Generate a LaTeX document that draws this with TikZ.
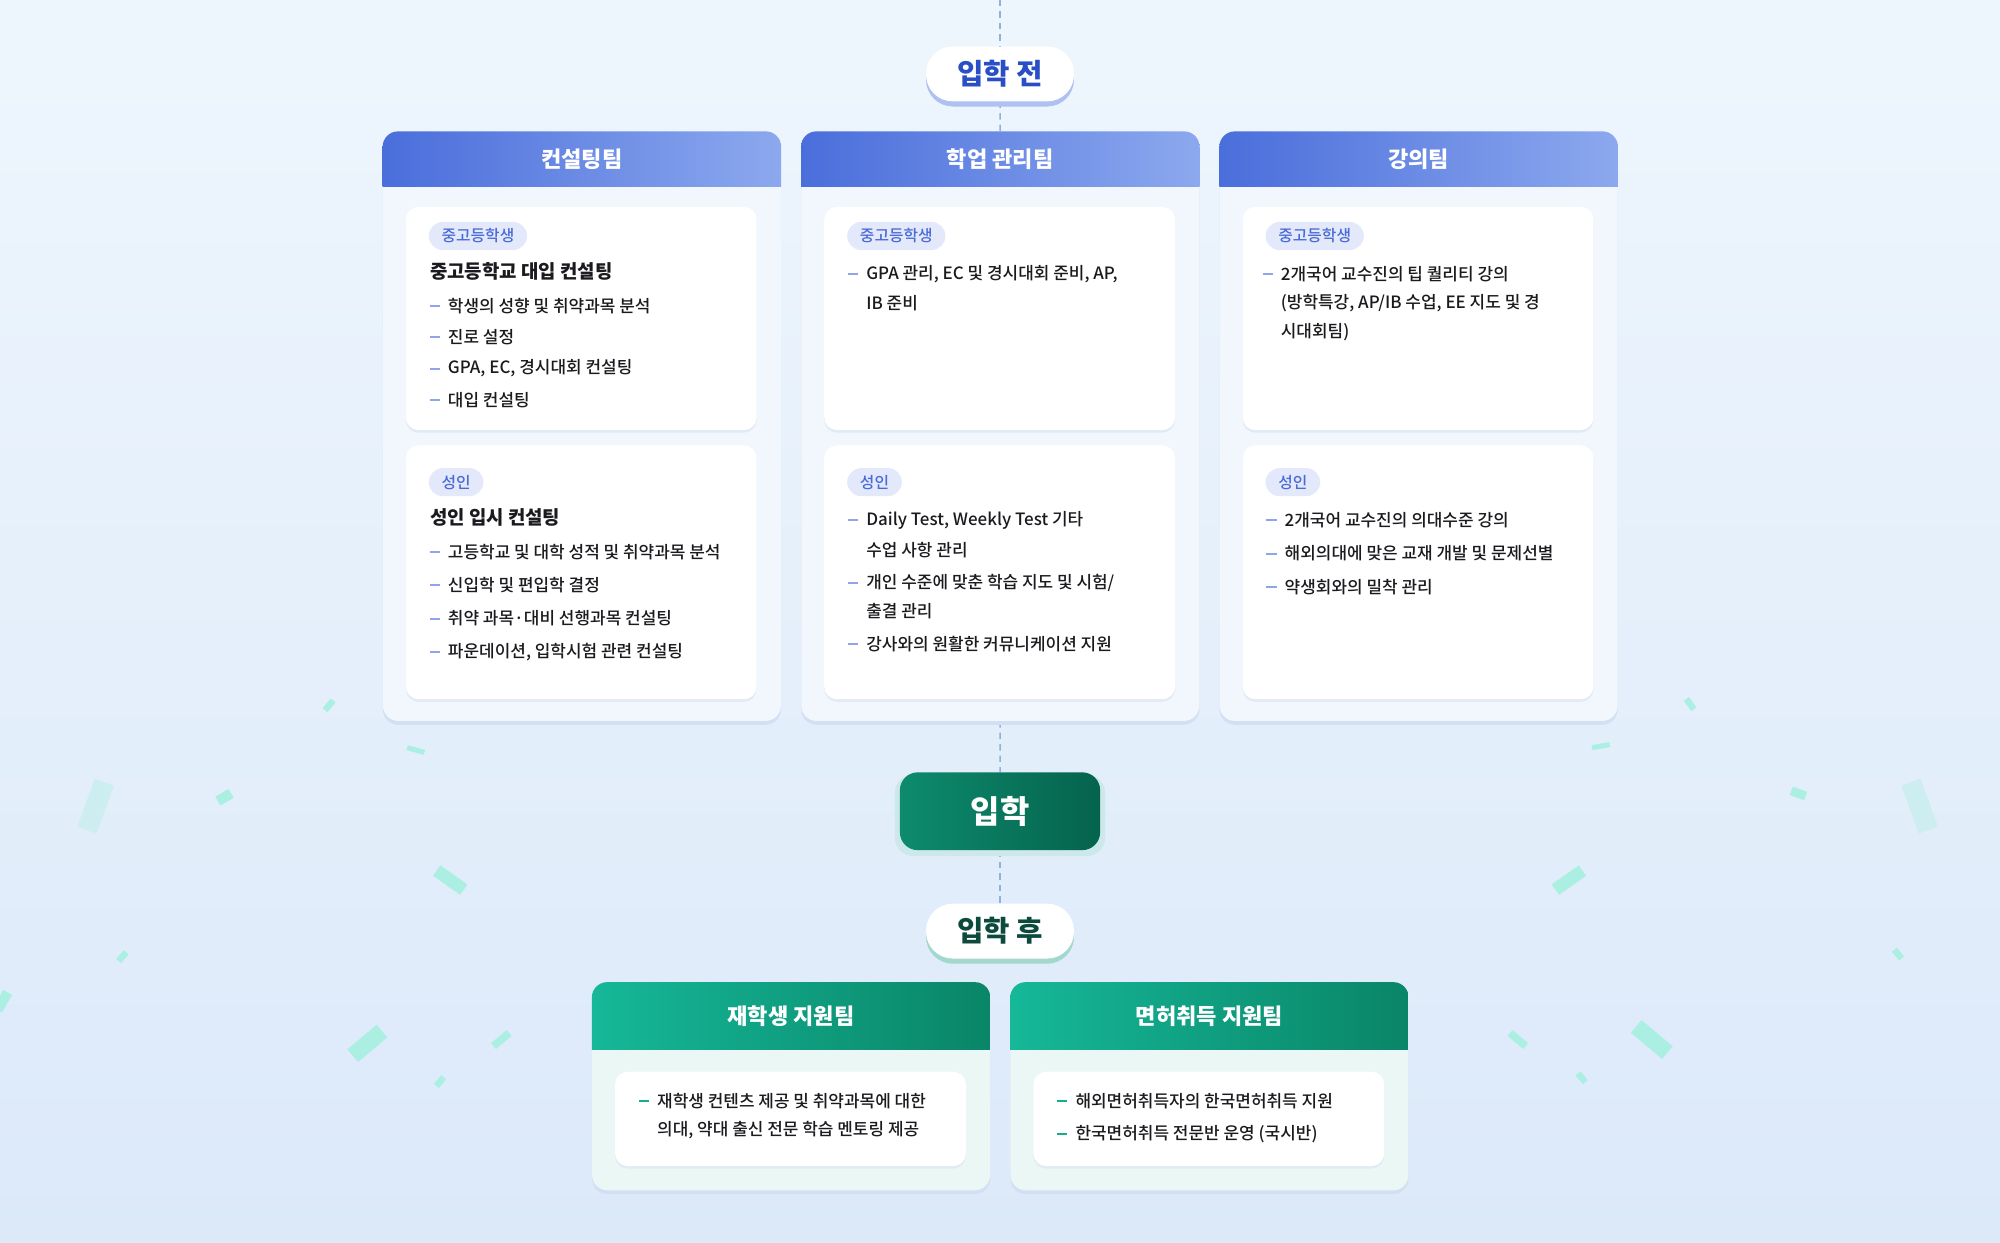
\documentclass[tikz,border=0pt]{standalone}
\usepackage{fontspec}
\setmainfont{Noto Sans CJK KR}
\newfontfamily\medkr{Noto Sans CJK KR Medium}
\usepackage{xcolor}
\usetikzlibrary{positioning,calc,shadows,backgrounds}

\definecolor{bgtop}{HTML}{EEF6FD}
\definecolor{bgbot}{HTML}{DCE9F9}
\definecolor{blueA}{HTML}{4A6EDB}
\definecolor{blueB}{HTML}{8CA8EE}
\definecolor{bluebody}{HTML}{F2F7FD}
\definecolor{bluetag}{HTML}{E3E9FB}
\definecolor{bluetagtext}{HTML}{4A6BD5}
\definecolor{bluedash}{HTML}{8FA4EA}
\definecolor{bluetext}{HTML}{2A4EC6}
\definecolor{blueshade}{HTML}{AEC2F1}
\definecolor{greenA}{HTML}{15B899}
\definecolor{greenB}{HTML}{0A8567}
\definecolor{greenbody}{HTML}{EAF7F4}
\definecolor{greendash}{HTML}{17AE8C}
\definecolor{greentext}{HTML}{0C4A3B}
\definecolor{greenshade}{HTML}{A2D8CD}
\definecolor{admA}{HTML}{0D8B6D}
\definecolor{admB}{HTML}{05634D}
\definecolor{admglow}{HTML}{CDE8EA}
\definecolor{ink}{HTML}{1B1B1F}
\definecolor{connline}{HTML}{93B0D6}
\definecolor{confetti}{HTML}{A6EFE0}
\definecolor{cardshade}{HTML}{D3DFF2}
\definecolor{subshade}{HTML}{E3EAF5}

\tikzset{
  card/.style={fill=bluebody, rounded corners=12pt,
    minimum width=312pt, inner sep=0pt, anchor=north west,
    general shadow={fill=cardshade, shadow yshift=-3pt}},
  gcard/.style={card, fill=greenbody},
  subcard/.style={fill=white, rounded corners=10pt, minimum width=275pt,
    inner sep=0pt, anchor=north west,
    general shadow={fill=subshade, shadow yshift=-2pt}},
  cardtitle/.style={text=white, font=\bfseries\fontsize{17.3}{17.3}\selectfont},
  tag/.style={fill=bluetag, text=bluetagtext, rounded corners=11pt,
    minimum height=22pt, inner xsep=10pt, inner ysep=0pt, anchor=west,
    font=\medkr\fontsize{12.4}{12.4}\selectfont},
  subhead/.style={anchor=west, inner sep=0pt, text=ink,
    font=\bfseries\fontsize{14.8}{14.8}\selectfont},
  itemtext/.style={anchor=west, inner sep=0pt, text=ink,
    font=\medkr\fontsize{13.3}{13.3}\selectfont},
  dashmark/.style={minimum width=8pt, minimum height=1.6pt, inner sep=0pt,
    label distance=6pt},
  itemb/.style={itemtext, label={[dashmark, fill=bluedash]left:{}}},
  itemg/.style={itemtext, label={[dashmark, fill=greendash]left:{}}},
  pill/.style={fill=white, rounded corners=21pt, minimum width=116pt,
    minimum height=43pt, font=\bfseries\fontsize{22.5}{22.5}\selectfont},
  pillb/.style={pill, text=bluetext, general shadow={fill=blueshade, shadow yshift=-4pt}},
  pillg/.style={pill, text=greentext, general shadow={fill=greenshade, shadow yshift=-4pt}},
  admit/.style={left color=admA, right color=admB, rounded corners=14pt,
    minimum width=157pt, minimum height=61pt, text=white,
    font=\bfseries\fontsize{25}{25}\selectfont,
    general shadow={fill=admglow, shadow yshift=-3pt, shadow scale=1.05}},
  conn/.style={draw=connline, line width=1.2pt, dash pattern=on 5pt off 4pt}
}

\begin{document}
\begin{tikzpicture}[x=1pt, y=-1pt]
\useasboundingbox (0,0) rectangle (1568,974);

% stages
\coordinate (top) at (784,0);
\node[pillb] (pre) at (784,58) {입학 전};
\node[admit] (adm) at (784,636) {입학};
\node[pillg] (post) at (784,730) {입학 후};

% team cards
\node[card, minimum height=462pt] (cons) at (300,103) {};
\node[card, minimum height=462pt] (acad) at (628,103) {};
\node[card, minimum height=462pt] (lect) at (956,103) {};
\node[gcard, minimum height=163pt] (stud) at (464,770) {};
\node[gcard, minimum height=163pt] (lic) at (792,770) {};

\foreach \c/\ca/\cb/\h in {cons/blueA/blueB/43, acad/blueA/blueB/43,
    lect/blueA/blueB/43, stud/greenA/greenB/53, lic/greenA/greenB/53} {
  \begin{scope}
    \clip[rounded corners=12pt] (\c.north west) rectangle (\c.south east);
    \shade[left color=\ca, right color=\cb] (\c.north west) rectangle ($(\c.north east)+(0,\h)$);
  \end{scope}
}

\node[cardtitle, below=21.5pt of cons.north, anchor=center] (cons-t) {컨설팅팀};
\node[cardtitle, below=21.5pt of acad.north, anchor=center] (acad-t) {학업 관리팀};
\node[cardtitle, below=21.5pt of lect.north, anchor=center] (lect-t) {강의팀};
\node[cardtitle, below=27pt of stud.north, anchor=center] (stud-t) {재학생 지원팀};
\node[cardtitle, below=27pt of lic.north, anchor=center] (lic-t) {면허취득 지원팀};

% inner cards
\node[subcard, minimum height=175pt] (cons-hs) at (318,162) {};
\node[subcard, minimum height=199pt] (cons-ad) at (318,349) {};
\node[subcard, minimum height=175pt] (acad-hs) at (646,162) {};
\node[subcard, minimum height=199pt] (acad-ad) at (646,349) {};
\node[subcard, minimum height=175pt] (lect-hs) at (974,162) {};
\node[subcard, minimum height=199pt] (lect-ad) at (974,349) {};
\node[subcard, minimum height=74pt] (stud-in) at (482,840) {};
\node[subcard, minimum height=74pt] (lic-in) at (810,840) {};

% consulting
\node[tag] (c1) at ($(cons-hs.north west)+(18,23)$) {중고등학생};
\node[subhead, below right=28pt and 1pt of c1.west, anchor=west] (c1h) {중고등학교 대입 컨설팅};
\node[itemb, below right=27pt and 14pt of c1h.west, anchor=west] (c1a) {학생의 성향 및 취약과목 분석};
\node[itemb, below=24.5pt of c1a.west, anchor=west] (c1b) {진로 설정};
\node[itemb, below=24.5pt of c1b.west, anchor=west] (c1c) {GPA, EC, 경시대회 컨설팅};
\node[itemb, below=24.5pt of c1c.west, anchor=west] (c1d) {대입 컨설팅};

\node[tag] (c2) at ($(cons-ad.north west)+(18,29)$) {성인};
\node[subhead, below right=28pt and 1pt of c2.west, anchor=west] (c2h) {성인 입시 컨설팅};
\node[itemb, below right=27pt and 14pt of c2h.west, anchor=west] (c2a) {고등학교 및 대학 성적 및 취약과목 분석};
\node[itemb, below=26pt of c2a.west, anchor=west] (c2b) {신입학 및 편입학 결정};
\node[itemb, below=26pt of c2b.west, anchor=west] (c2c) {취약 과목·대비 선행과목 컨설팅};
\node[itemb, below=26pt of c2c.west, anchor=west] (c2d) {파운데이션, 입학시험 관련 컨설팅};

% academic care
\node[tag] (a1) at ($(acad-hs.north west)+(18,23)$) {중고등학생};
\node[itemb, below right=30pt and 15pt of a1.west, anchor=west] (a1a) {GPA 관리, EC 및 경시대회 준비, AP,};
\node[itemtext, below=23pt of a1a.west, anchor=west] (a1a2) {IB 준비};

\node[tag] (a2) at ($(acad-ad.north west)+(18,29)$) {성인};
\node[itemb, below right=30pt and 15pt of a2.west, anchor=west] (a2a) {Daily Test, Weekly Test 기타};
\node[itemtext, below=23pt of a2a.west, anchor=west] (a2a2) {수업 사항 관리};
\node[itemb, below=26pt of a2a2.west, anchor=west] (a2b) {개인 수준에 맞춘 학습 지도 및 시험/};
\node[itemtext, below=22pt of a2b.west, anchor=west] (a2b2) {출결 관리};
\node[itemb, below=26pt of a2b2.west, anchor=west] (a2c) {강사와의 원활한 커뮤니케이션 지원};

% lectures
\node[tag] (l1) at ($(lect-hs.north west)+(18,23)$) {중고등학생};
\node[itemb, below right=30pt and 12pt of l1.west, anchor=west] (l1a) {2개국어 교수진의 팁 퀄리티 강의};
\node[itemtext, below=23pt of l1a.west, anchor=west] (l1a2) {(방학특강, AP/IB 수업, EE 지도 및 경};
\node[itemtext, below=22pt of l1a2.west, anchor=west] (l1a3) {시대회팀)};

\node[tag] (l2) at ($(lect-ad.north west)+(18,29)$) {성인};
\node[itemb, below right=30pt and 15pt of l2.west, anchor=west] (l2a) {2개국어 교수진의 의대수준 강의};
\node[itemb, below=26pt of l2a.west, anchor=west] (l2b) {해외의대에 맞은 교재 개발 및 문제선별};
\node[itemb, below=26pt of l2b.west, anchor=west] (l2c) {약생회와의 밀착 관리};

% after admission
\node[itemg] (s1) at ($(stud-in.north west)+(33,23)$) {재학생 컨텐츠 제공 및 취약과목에 대한};
\node[itemtext, below=23pt of s1.west, anchor=west] (s1b) {의대, 약대 출신 전문 학습 멘토링 제공};
\node[itemg] (m1) at ($(lic-in.north west)+(33,23)$) {해외면허취득자의 한국면허취득 지원};
\node[itemg, below=26pt of m1.west, anchor=west] (m2) {한국면허취득 전문반 운영 (국시반)};

% background, confetti and connectors
\begin{scope}[on background layer]
  \shade[top color=bgtop, bottom color=bgbot] (0,0) rectangle (1568,974);
  \foreach \x/\y/\a/\w/\h/\o in {258/553/-40/5/10/0.9, 326/588/-15/14/4/0.9,
      75/632/-20/16/40/0.35, 176/625/30/12/8/0.9, 353/690/-35/26/10/0.9,
      96/750/-40/5/9/0.9, 2/785/-30/8/16/0.9, 288/818/40/30/13/0.9,
      393/815/40/16/6/0.9, 345/848/-40/5/9/0.9, 1325/552/35/5/10/0.9,
      1255/585/10/14/4/0.9, 1410/622/-20/12/7/0.9, 1505/632/20/16/40/0.35,
      1230/690/35/26/10/0.9, 1488/748/40/5/9/0.9, 1190/815/-40/16/6/0.9,
      1295/815/-40/32/13/0.9, 1240/845/40/5/9/0.9} {
    \fill[confetti, opacity=\o, rotate around={\a:(\x,\y)}]
      ({\x-\w/2},{\y-\h/2}) rectangle ({\x+\w/2},{\y+\h/2});
  }
  \draw[conn] (top) -- (pre);
  \draw[conn] (pre) -- (acad);
  \draw[conn] (acad) -- (adm);
  \draw[conn] (adm) -- (post);
\end{scope}
\end{tikzpicture}
\end{document}
